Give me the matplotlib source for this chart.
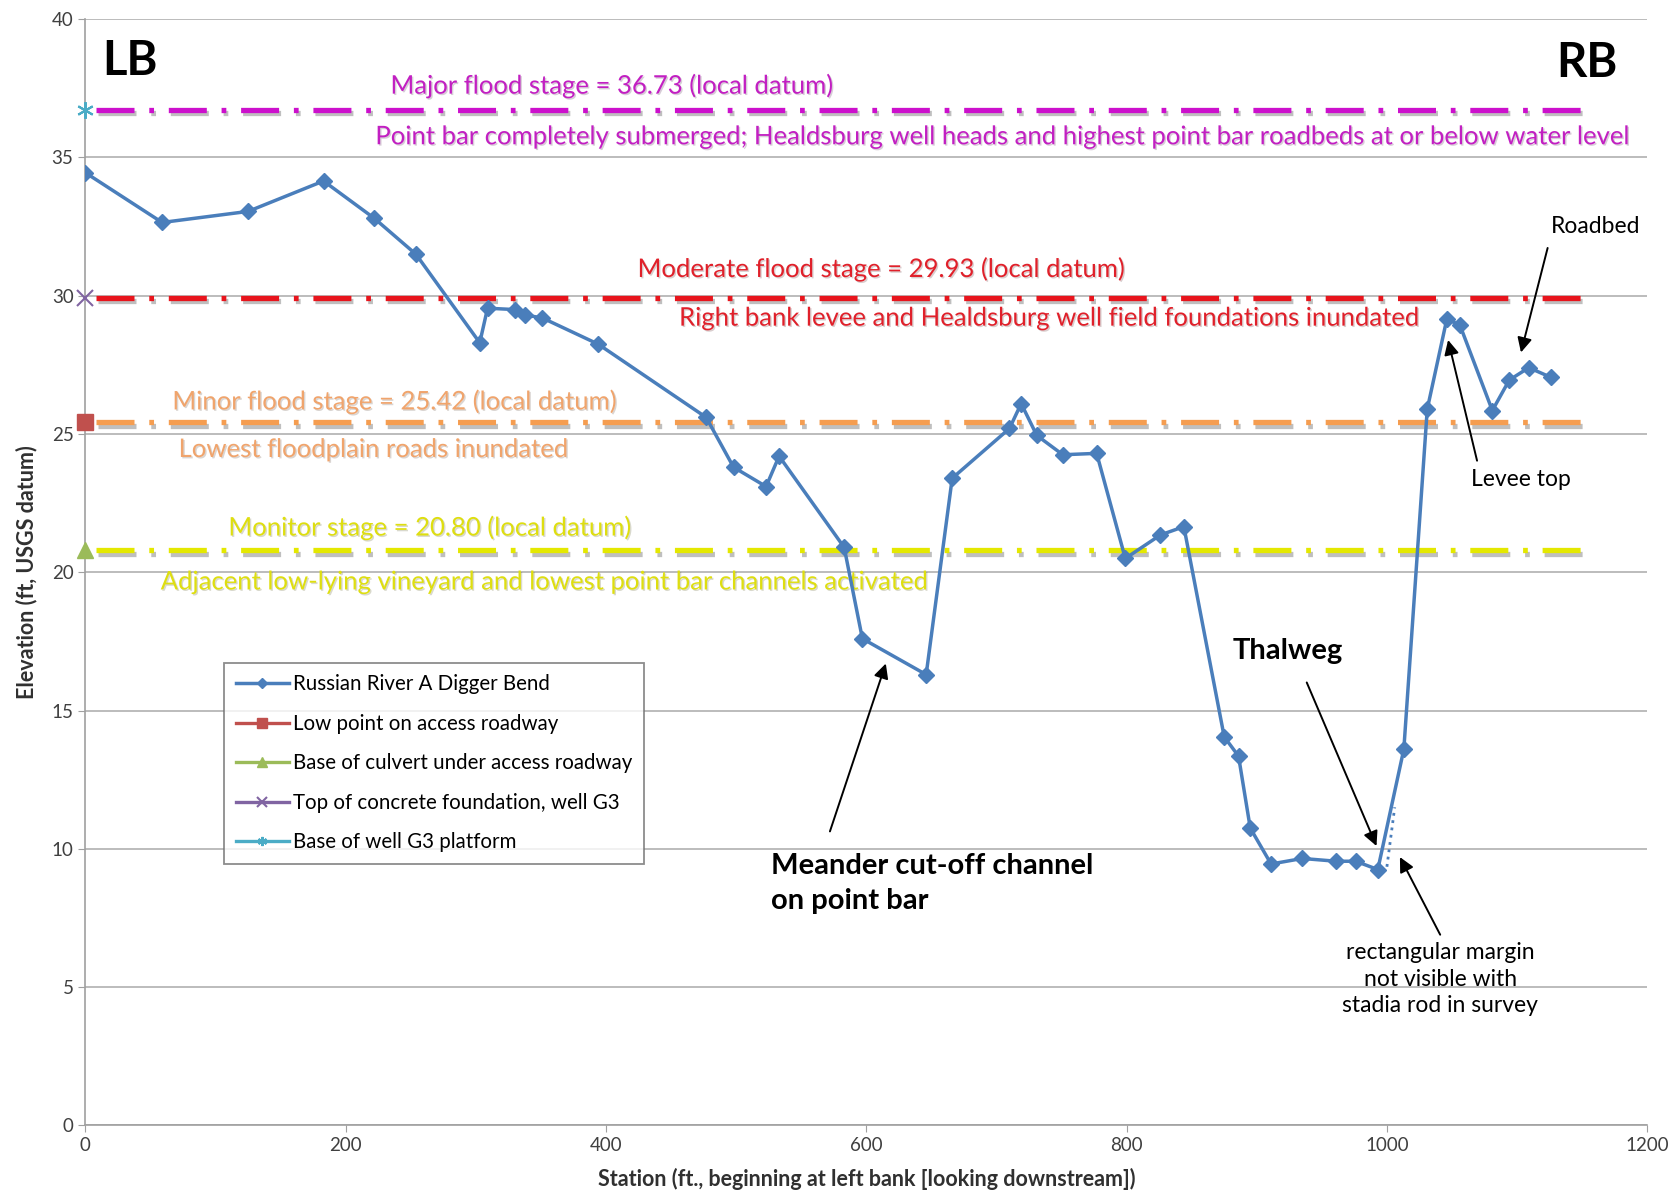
import matplotlib
matplotlib.use("Agg")
import matplotlib.pyplot as plt
import matplotlib.patheffects as pe

plt.rcParams['font.family'] = ['Lato', 'DejaVu Sans']

# surveyed cross-section (station ft, elevation ft)
station = [0, 59, 125, 183, 222, 254, 303, 309, 330, 338, 351, 394, 477, 498,
           523, 533, 583, 597, 646, 666, 710, 719, 731, 751, 777, 799, 826, 844,
           875, 886, 895, 911, 935, 961, 976, 993, 1013, 1031, 1046, 1056, 1081,
           1094, 1109, 1126]
elevation = [34.45, 32.65, 33.05, 34.15, 32.8, 31.5, 28.3, 29.55, 29.5, 29.3,
             29.2, 28.25, 25.6, 23.8, 23.1, 24.2, 20.9, 17.6, 16.3, 23.4, 25.2,
             26.1, 24.95, 24.25, 24.3, 20.5, 21.35, 21.65, 14.05, 13.35, 10.75,
             9.45, 9.65, 9.55, 9.55, 9.25, 13.6, 25.9, 29.15, 28.95, 25.85,
             26.95, 27.4, 27.05]

# unseen margin (dotted)
margin_x = [1000, 1006]
margin_y = [9.35, 11.5]

# reference points at station 0
ref_names = ["Low point on access roadway", "Base of culvert under access roadway",
             "Top of concrete foundation, well G3", "Base of well G3 platform"]
ref_y = [25.42, 20.80, 29.93, 36.73]

# flood stages
stage_x = [8, 1150]
stage_vals = [36.73, 29.93, 25.42, 20.80]
stage_titles = ["Major flood stage = 36.73 (local datum)",
                "Moderate flood stage = 29.93 (local datum)",
                "Minor flood stage = 25.42 (local datum)",
                "Monitor stage = 20.80 (local datum)"]
stage_notes = ["Point bar completely submerged; Healdsburg well heads and highest point bar roadbeds at or below water level",
               "Right bank levee and Healdsburg well field foundations inundated",
               "Lowest floodplain roads inundated",
               "Adjacent low-lying vineyard and lowest point bar channels activated"]

BLUE = '#4a7ebb'
line_cols = ['#cc10cc', '#e8141c', '#f59d50', '#e4e800']
text_cols = ['#c21fc2', '#e0202a', '#f0a46c', '#dede10']

fig = plt.figure(figsize=(16.74, 12.02), dpi=100)
ax = fig.add_axes([0.051, 0.0638, 0.933, 0.9202])

ax.set_xlim(0, 1200)
ax.set_ylim(0, 40)
ax.set_xticks(range(0, 1201, 200))
ax.set_yticks(range(0, 41, 5))
ax.grid(axis='y', color='#b0b0b0', lw=1.2)
ax.set_axisbelow(True)
for s in ['top', 'right']:
    ax.spines[s].set_visible(False)
for s in ['left', 'bottom']:
    ax.spines[s].set_color('#a0a0a0')
    ax.spines[s].set_linewidth(1.2)
ax.tick_params(labelsize=13.5, colors='#a0a0a0', labelcolor='#404040', length=5)

# stage lines with a soft shadow
shadow = [pe.SimpleLineShadow(offset=(1.5, -2.5), alpha=0.25), pe.Normal()]
for v, c in zip(stage_vals, line_cols):
    ax.plot(stage_x, [v, v], color=c, lw=3.8, linestyle=(0, (7.2, 2.8, 0.9, 2.8)),
            path_effects=shadow, zorder=2)

# profile
ax.plot(station, elevation, color=BLUE, lw=2.5, marker='D', ms=8.5,
        label="Russian River A Digger Bend", zorder=4)
ax.plot(margin_x, margin_y, color=BLUE, lw=2, linestyle=':', zorder=4)

# reference markers
ax.plot([0], [ref_y[0]], color='#c0504d', marker='s', ms=12, lw=2.4, label=ref_names[0], zorder=5, clip_on=False)
ax.plot([0], [ref_y[1]], color='#9bbb59', marker='^', ms=12, lw=2.4, label=ref_names[1], zorder=5, clip_on=False)
ax.plot([0], [ref_y[2]], color='#8064a2', marker='x', ms=12, mew=1.5, lw=2.4, label=ref_names[2], zorder=5, clip_on=False)
ax.plot([0], [ref_y[3]], color='#4bacc6', marker=(6, 2, 0), ms=12, mew=1.5, lw=2.4, label=ref_names[3], zorder=5, clip_on=False)

# stage labels
txt_shadow = [pe.withSimplePatchShadow(offset=(1, -1), alpha=0.2)]
title_pos = [(405, 37.6), (612, 30.97), (238, 26.18), (265, 21.62)]
note_pos = [(707, 35.75), (742, 29.19), (222, 24.44), (354, 19.65)]
for i in range(4):
    ax.text(*title_pos[i], stage_titles[i], color=text_cols[i], fontsize=18.5,
            ha='center', va='center', path_effects=txt_shadow)
    ax.text(*note_pos[i], stage_notes[i], color=text_cols[i], fontsize=18.5,
            ha='center', va='center', path_effects=txt_shadow)

ax.text(34, 38.5, "LB", fontsize=34, fontweight='bold', ha='center', va='center')
ax.text(1154, 38.4, "RB", fontsize=34, fontweight='bold', ha='center', va='center')

arrow = dict(arrowstyle='-|>', color='black', lw=1.4, mutation_scale=22)
ax.annotate("Roadbed", xy=(1103, 27.95), xytext=(1160, 32.5), fontsize=16.5,
            ha='center', va='center',
            arrowprops=dict(arrow, relpos=(0.0, 0.0), shrinkA=6, shrinkB=0))
ax.annotate("Levee top", xy=(1047, 28.4), xytext=(1103, 23.36), fontsize=16.5,
            ha='center', va='center',
            arrowprops=dict(arrow, relpos=(0.08, 1.0), shrinkA=4, shrinkB=0))
ax.annotate("Thalweg", xy=(992, 10.1), xytext=(924, 17.14), fontsize=21,
            fontweight='bold', ha='center', va='center',
            arrowprops=dict(arrow, relpos=(0.6, 0.0), shrinkA=12, shrinkB=0))
ax.annotate("Meander cut-off channel\non point bar", xy=(615, 16.7), xytext=(527, 8.75),
            fontsize=21, fontweight='bold', ha='left', va='center', linespacing=1.45,
            arrowprops=dict(arrow, relpos=(0.16, 1.0), shrinkA=14, shrinkB=0))
ax.annotate("rectangular margin\nnot visible with\nstadia rod in survey", xy=(1010, 9.7),
            xytext=(1041, 5.29), fontsize=16.5, ha='center', va='center', linespacing=1.3,
            arrowprops=dict(arrow, relpos=(0.52, 1.0), shrinkA=4, shrinkB=0))

ax.set_xlabel("Station (ft., beginning at left bank [looking downstream])",
              fontsize=15.5, fontweight='bold', color='#303030', labelpad=10)
ax.set_ylabel("Elevation (ft, USGS datum)", fontsize=15.5, fontweight='bold',
              color='#303030', labelpad=10)

leg = ax.legend(loc='upper left', bbox_to_anchor=(0.0889, 0.418), borderaxespad=0,
                fontsize=14.8, frameon=True, fancybox=False, edgecolor='#707070',
                handlelength=2.6, handletextpad=0.2, borderpad=0.55, labelspacing=0.95,
                markerscale=0.55)
leg.get_frame().set_linewidth(1.3)

fig.savefig("out.png", dpi=100)
